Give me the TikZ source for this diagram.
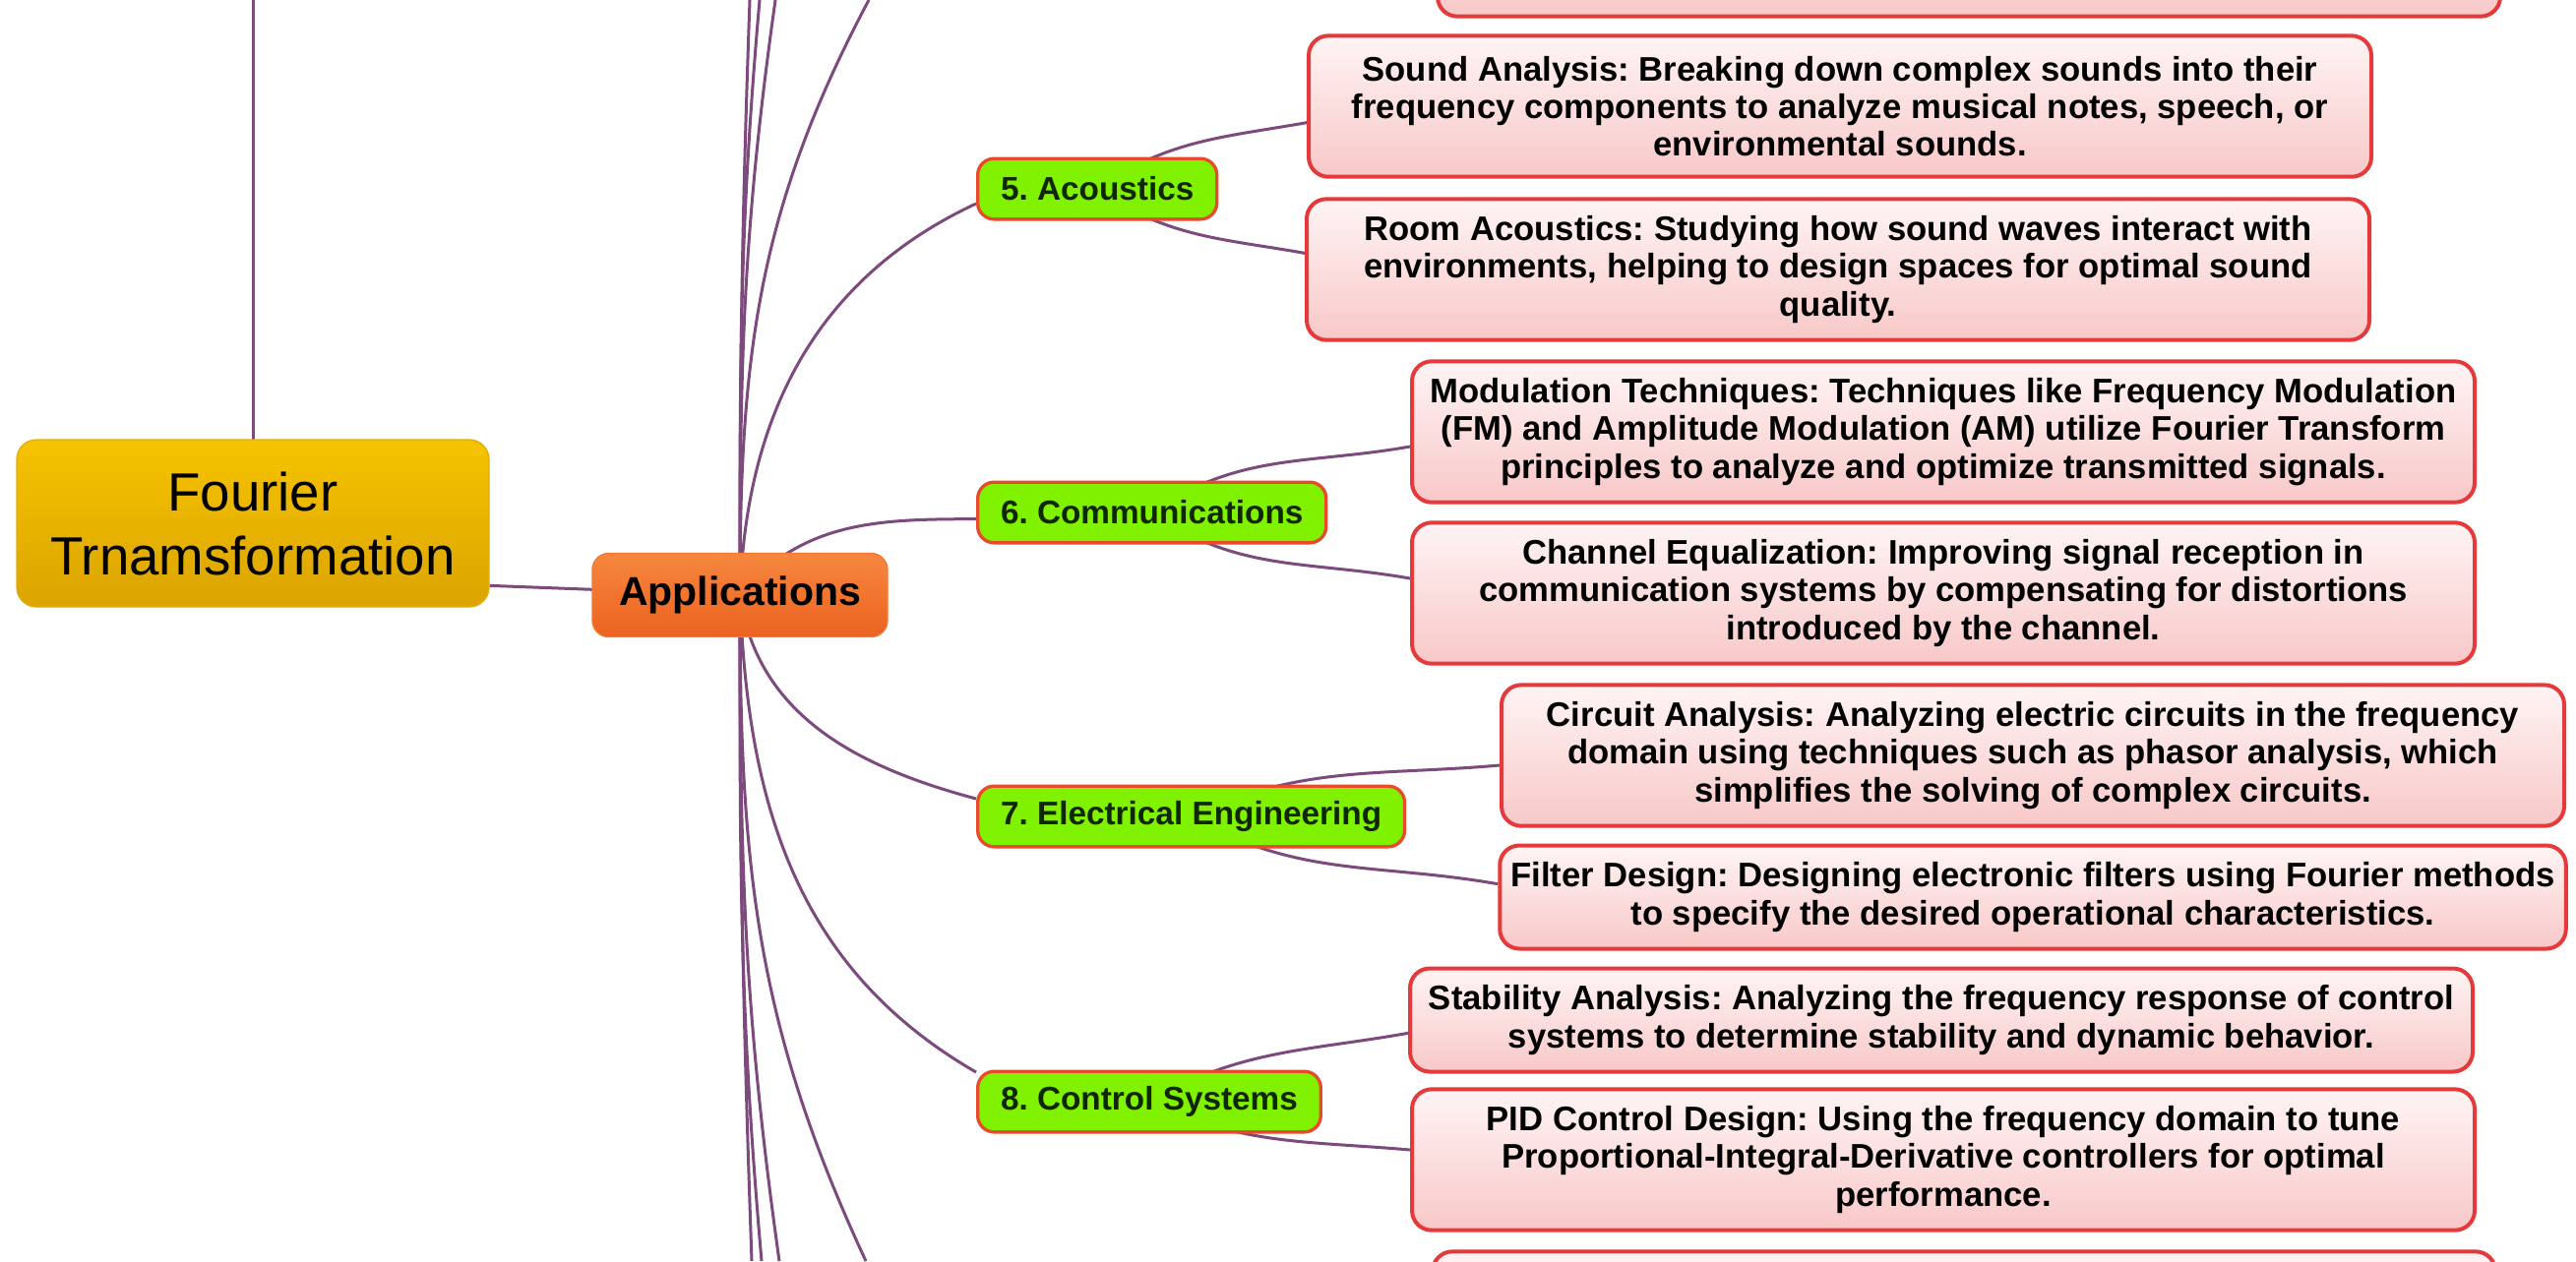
\documentclass[tikz,border=0pt]{standalone}
\usepackage{fontspec}
\setmainfont{Liberation Sans}
\usetikzlibrary{backgrounds}
\frenchspacing

\definecolor{rootlight}{HTML}{F6C300}
\definecolor{rootdark}{HTML}{DBA400}
\definecolor{rootedge}{HTML}{E0AE10}
\definecolor{hublight}{HTML}{F6873F}
\definecolor{hubdark}{HTML}{EC6220}
\definecolor{hubedge}{HTML}{F27A34}
\definecolor{topicfill}{HTML}{80F200}
\definecolor{topicedge}{HTML}{E74B2C}
\definecolor{topictext}{HTML}{102600}
\definecolor{leafedge}{HTML}{E53A3B}
\definecolor{leaflight}{HTML}{FFF4F4}
\definecolor{leafpink}{HTML}{F8C8C8}
\definecolor{linkpurple}{HTML}{7D4A7D}

\begin{document}
\begin{tikzpicture}[x=0.3pt, y=0.3pt,
    root/.style={draw=rootedge, top color=rootlight, bottom color=rootdark, rounded corners=6pt,
      minimum width=144pt, minimum height=51pt, align=center, font=\fontsize{16.4}{19.5}\selectfont},
    hub/.style={draw=hubedge, top color=hublight, bottom color=hubdark, rounded corners=5pt,
      minimum width=90pt, minimum height=25.5pt, font=\fontsize{12.3}{14}\selectfont\bfseries},
    topic/.style={anchor=west, draw=topicedge, fill=topicfill, line width=1pt, rounded corners=5pt,
      minimum height=18.5pt, inner xsep=7pt, text=topictext, font=\fontsize{10}{12}\selectfont\bfseries},
    leaf/.style={draw=leafedge, top color=leaflight, bottom color=leafpink, line width=1.2pt,
      rounded corners=6pt, minimum width=324pt, minimum height=43pt, inner ysep=2pt, align=center,
      font=\fontsize{10.4}{11.5}\selectfont\bfseries},
    leafshort/.style={leaf, minimum height=31.5pt},
    link/.style={draw=linkpurple, line width=0.9pt}]

    % Rahmen
    \useasboundingbox (0,0) rectangle (2618,-1282);
    \clip (0,0) rectangle (2618,-1282);

    % Hauptknoten
    \node[root] (fourier) at (257,-532) {Fourier\\Trnamsformation};
    \node[hub] (app) at (752,-605) {Applications};

    % Themen
    \node[topic] (acou) at (992,-192) {5. Acoustics};
    \node[topic] (comm) at (992,-521) {6. Communications};
    \node[topic] (elec) at (992,-830) {7. Electrical Engineering};
    \node[topic] (ctrl) at (992,-1120) {8. Control Systems};

    % Blätter
    \node[leaf] (prevleaf) at (2001,55) {};
    \node[leaf] (sound) at (1870,-108) {Sound Analysis: Breaking down complex sounds into their\\
      frequency components to analyze musical notes, speech, or\\ environmental sounds.};
    \node[leaf] (room) at (1868,-274) {Room Acoustics: Studying how sound waves interact with\\
      environments, helping to design spaces for optimal sound\\ quality.};
    \node[leaf] (modul) at (1975,-439) {Modulation Techniques: Techniques like Frequency Modulation\\
      (FM) and Amplitude Modulation (AM) utilize Fourier Transform\\
      principles to analyze and optimize transmitted signals.};
    \node[leaf] (chan) at (1975,-603) {Channel Equalization: Improving signal reception in\\
      communication systems by compensating for distortions\\ introduced by the channel.};
    \node[leaf] (circ) at (2066,-768) {Circuit Analysis: Analyzing electric circuits in the frequency\\
      domain using techniques such as phasor analysis, which\\ simplifies the solving of complex circuits.};
    \node[leafshort] (filt) at (2066,-912) {Filter Design: Designing electronic filters using Fourier methods\\
      to specify the desired operational characteristics.};
    \node[leafshort] (stab) at (1973,-1037) {Stability Analysis: Analyzing the frequency response of control\\
      systems to determine stability and dynamic behavior.};
    \node[leaf] (pid) at (1975,-1179) {PID Control Design: Using the frequency domain to tune\\
      Proportional-Integral-Derivative controllers for optimal\\ performance.};
    \node[leaf] (nextleaf) at (1996,-1344) {};

    % Enden am Bildrand
    \coordinate (fup) at (257,0);
    \coordinate (up1) at (762,0);
    \coordinate (up2) at (772,0);
    \coordinate (up3) at (788,0);
    \coordinate (up4) at (883,0);
    \coordinate (dn1) at (764,-1282);
    \coordinate (dn2) at (774,-1282);
    \coordinate (dn3) at (792,-1282);
    \coordinate (dn4) at (880,-1282);

    % Verbindungen
    \begin{scope}[on background layer]
      \draw[link] (fourier.center) -- (fup);
      \draw[link] (app.center) -- ([yshift=-19pt]fourier.east);
      \foreach \c/\a in {up1/-92, up2/-95, up3/-98, up4/-118}
        \draw[link] (app.center) to[out=90, in=\a] (\c);
      \foreach \c/\a in {dn1/92, dn2/95, dn3/98, dn4/115}
        \draw[link] (app.center) to[out=-90, in=\a] (\c);
      \draw[link] (app.center) to[out=88, in=205] ([yshift=-4.5pt]acou.west);
      \draw[link] (app.center) to[out=50, in=180] ([yshift=-2pt]comm.west);
      \draw[link] (app.center) to[out=-82, in=165] ([yshift=5.4pt]elec.west);
      \draw[link] (app.center) to[out=-88, in=150] ([yshift=9pt]ctrl.west);

      \draw[link] (acou.center) to[out=35, in=190] ([yshift=-5pt]sound.west);
      \draw[link] (acou.center) to[out=-35, in=170] ([yshift=5pt]room.west);
      \draw[link] (comm.center) to[out=35, in=190] ([yshift=-4.5pt]modul.west);
      \draw[link] (comm.center) to[out=-35, in=170] ([yshift=4.5pt]chan.west);
      \draw[link] (elec.center) to[out=25, in=185] ([yshift=-3pt]circ.west);
      \draw[link] (elec.center) to[out=-30, in=170] ([yshift=4pt]filt.west);
      \draw[link] (ctrl.center) to[out=30, in=190] ([yshift=-4pt]stab.west);
      \draw[link] (ctrl.center) to[out=-25, in=175] ([yshift=3pt]pid.west);
    \end{scope}
\end{tikzpicture}
\end{document}
